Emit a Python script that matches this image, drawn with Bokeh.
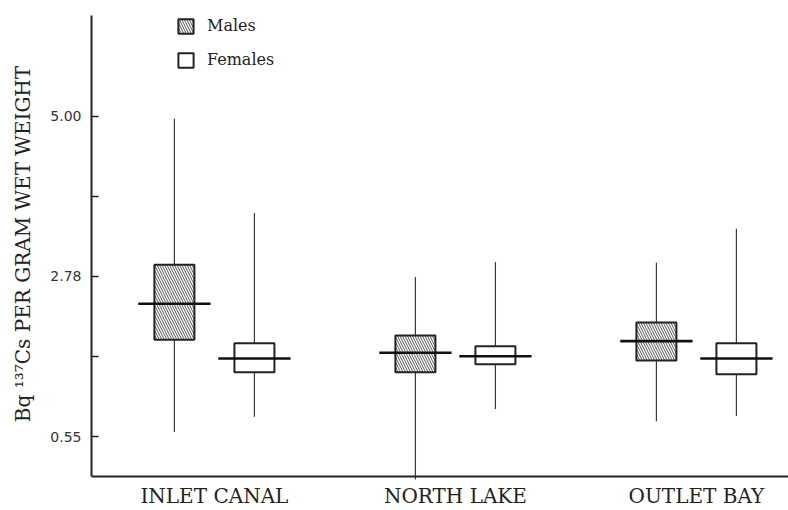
import numpy as np
from bokeh.plotting import figure
from bokeh.models import (FixedTicker, NumeralTickFormatter, Span, Legend,
                          LegendItem, ColumnDataSource, Range1d)
from bokeh.embed import file_html
from bokeh.resources import INLINE

# ---- data ----
sites = ["INLET CANAL", "NORTH LAKE", "OUTLET BAY"]

male_low = [0.62, -0.12, 0.77]
male_q1 = [1.90, 1.45, 1.61]
male_med = [2.40, 1.72, 1.88]
male_q3 = [2.94, 1.96, 2.14]
male_high = [4.97, 2.77, 2.97]

female_low = [0.83, 0.94, 0.84]
female_q1 = [1.45, 1.56, 1.42]
female_med = [1.64, 1.67, 1.64]
female_q3 = [1.85, 1.81, 1.85]
female_high = [3.66, 2.98, 3.44]

y_ticks = [0.55, 2.78, 5.00]
y_minor_ticks = [1.665, 3.89]

# ---- layout helpers ----
pos = np.arange(1, len(sites) + 1)
offset = 0.166
box_w = 0.166
med_w = 0.30

def make_src(xs, low, q1, med, q3, high):
    xs = np.asarray(xs, dtype=float)
    return ColumnDataSource(dict(
        x=xs, low=low, q1=q1, med=med, q3=q3, high=high,
        mx0=xs - med_w / 2, mx1=xs + med_w / 2))

msrc = make_src(pos - offset, male_low, male_q1, male_med, male_q3, male_high)
fsrc = make_src(pos + offset, female_low, female_q1, female_med, female_q3, female_high)

p = figure(width=788, height=510, output_backend="svg", toolbar_location=None,
           x_range=Range1d(0.49, 0.49 + 697 / 241), y_range=Range1d(-0.04, 6.497),
           min_border_left=91, min_border_top=8, min_border_right=0,
           min_border_bottom=0)
p.xgrid.visible = False
p.ygrid.visible = False
p.outline_line_color = None
p.background_fill_color = "white"

ink = "#222222"
serif = "DejaVu Serif"

# whiskers
for src in (msrc, fsrc):
    p.segment(x0="x", y0="low", x1="x", y1="high", source=src,
              line_color="#3a3a3a", line_width=1.2)

# boxes
rm = p.vbar(x="x", width=box_w, bottom="q1", top="q3", source=msrc,
            fill_color="white", hatch_pattern="left_diagonal_line",
            hatch_color="#555555", hatch_scale=5, hatch_weight=1,
            line_color=ink, line_width=2)
rf = p.vbar(x="x", width=box_w, bottom="q1", top="q3", source=fsrc,
            fill_color="white", line_color=ink, line_width=2)

# medians
for src in (msrc, fsrc):
    p.segment(x0="mx0", y0="med", x1="mx1", y1="med", source=src,
              line_color="#111111", line_width=2.6)

# y axis
ya = p.yaxis[0]
ya.ticker = FixedTicker(ticks=y_ticks, minor_ticks=y_minor_ticks)
ya.formatter = NumeralTickFormatter(format="0.00")
ya.bounds = (0, 6.40)
ya.axis_line_width = 2
ya.axis_line_color = ink
ya.major_tick_in = 7
ya.major_tick_out = 0
ya.minor_tick_in = 7
ya.minor_tick_out = 0
ya.major_tick_line_width = 1.5
ya.minor_tick_line_width = 1.5
ya.major_tick_line_color = ink
ya.minor_tick_line_color = ink
ya.major_label_text_font = "DejaVu Sans"
ya.major_label_text_font_size = "14px"
ya.major_label_text_color = "#333333"
ya.major_label_standoff = 10
ya.axis_label = "Bq \u00b9\u00b3\u2077Cs PER GRAM WET WEIGHT"
ya.axis_label_text_font = serif
ya.axis_label_text_font_size = "20px"
ya.axis_label_text_font_style = "normal"
ya.axis_label_text_color = ink
ya.axis_label_standoff = 12

# x axis
xa = p.xaxis[0]
xa.ticker = FixedTicker(ticks=[float(v) for v in pos])
xa.major_label_overrides = {float(v): s for v, s in zip(pos, sites)}
xa.axis_line_color = None
xa.major_tick_line_color = None
xa.minor_tick_line_color = None
xa.major_tick_in = 0
xa.major_tick_out = 0
xa.minor_tick_in = 0
xa.minor_tick_out = 0
xa.major_label_standoff = 4
xa.major_label_text_font = serif
xa.major_label_text_font_size = "20px"
xa.major_label_text_color = ink

p.add_layout(Span(location=0, dimension="width", line_color=ink, line_width=2))

legend = Legend(items=[LegendItem(label="Males", renderers=[rm]),
                       LegendItem(label="Females", renderers=[rf])],
                location=(85, 410), padding=0, spacing=15, margin=0,
                glyph_width=19, glyph_height=18, label_height=18,
                label_standoff=12, border_line_color=None,
                background_fill_alpha=0, label_text_font=serif,
                label_text_font_size="16px", label_text_color=ink)
p.add_layout(legend)

open("out.html", "w").write(file_html(p, INLINE))
